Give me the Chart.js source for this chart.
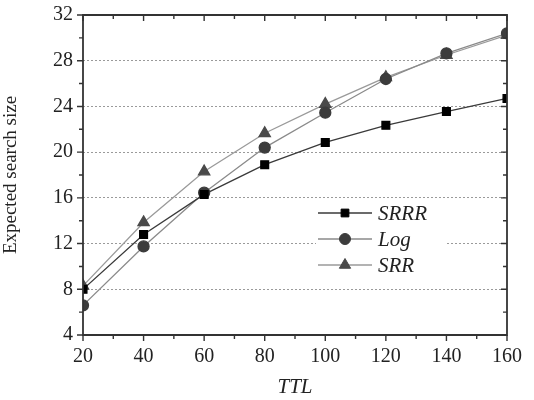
<!DOCTYPE html>
<html>
<head>
<meta charset="utf-8">
<script src="https://cdn.jsdelivr.net/npm/chart.js@4.4.1/dist/chart.umd.min.js"></script>
<style>
  html, body { margin: 0; padding: 0; background: #fff; }
  #wrap { width: 534px; height: 400px; }
</style>
</head>
<body>
<div id="wrap"><canvas id="chart" width="534" height="400"></canvas></div>
<script>
const ttl = [20, 40, 60, 80, 100, 120, 140, 160];
const srrr = [8.0, 12.8, 16.3, 18.9, 20.85, 22.35, 23.55, 24.7];
const logv = [6.6, 11.75, 16.45, 20.4, 23.45, 26.4, 28.65, 30.4];
const srr = [8.3, 13.85, 18.3, 21.65, 24.2, 26.55, 28.5, 30.25];
const yTicks = [4, 8, 12, 16, 20, 24, 28, 32];
const xTicks = [20, 40, 60, 80, 100, 120, 140, 160];

const serif = "'Liberation Serif', 'Times New Roman', serif";

function toPoints(ys) {
  return ttl.map((x, i) => ({ x: x, y: ys[i] }));
}

// box frame with Origin style ticks: bottom/left out, top/right in
function drawFrame(chart) {
  const ctx = chart.ctx, a = chart.chartArea;
  const xs = chart.scales.x, ys = chart.scales.y;
  ctx.save();
  ctx.setLineDash([]);
  ctx.strokeStyle = "#333";
  ctx.lineWidth = 1.8;
  ctx.beginPath();
  ctx.rect(a.left, a.top, a.right - a.left, a.bottom - a.top);
  ctx.stroke();
  ctx.lineWidth = 1.4;
  ctx.beginPath();
  for (let v = 20; v <= 160; v += 10) {
    const px = xs.getPixelForValue(v);
    const len = v % 20 === 0 ? 6 : 4;
    ctx.moveTo(px, a.bottom); ctx.lineTo(px, a.bottom + len);
    ctx.moveTo(px, a.top); ctx.lineTo(px, a.top + len);
  }
  for (let v = 4; v <= 32; v += 2) {
    const py = ys.getPixelForValue(v);
    const len = v % 4 === 0 ? 6 : 4;
    ctx.moveTo(a.left, py); ctx.lineTo(a.left - len, py);
    ctx.moveTo(a.right, py); ctx.lineTo(a.right - len, py);
  }
  ctx.stroke();
  ctx.restore();
}

// legend drawn inside plot, white box hides grid behind it
const legendPlugin = {
  id: "insideLegend",
  beforeDatasetsDraw(chart) {
    const ctx = chart.ctx;
    ctx.save();
    ctx.fillStyle = "#fff";
    ctx.fillRect(316, 200, 130, 76);
    ctx.restore();
  },
  afterDatasetsDraw(chart) {
    const ctx = chart.ctx;
    const x0 = 318, x1 = 372, tx = 378;
    const rows = [213, 239, 265];
    ctx.save();
    chart.data.datasets.forEach((ds, i) => {
      const y = rows[i];
      ctx.setLineDash([]);
      ctx.strokeStyle = ds.borderColor;
      ctx.lineWidth = ds.borderWidth;
      ctx.beginPath();
      ctx.moveTo(x0, y); ctx.lineTo(x1, y);
      ctx.stroke();
      ctx.fillStyle = ds.pointBackgroundColor;
      ctx.strokeStyle = ds.pointBorderColor;
      ctx.lineWidth = 1;
      Chart.helpers.drawPoint(ctx, {
        pointStyle: ds.pointStyle,
        radius: ds.pointRadius,
        borderWidth: 1,
      }, (x0 + x1) / 2, y);
      ctx.fillStyle = "#222";
      ctx.font = "italic 21px " + serif;
      ctx.textBaseline = "middle";
      ctx.textAlign = "left";
      ctx.fillText(ds.label, tx, y + 1);
    });
    ctx.restore();
  },
  afterDraw(chart) {
    drawFrame(chart);
  },
};

new Chart(document.getElementById("chart"), {
  type: "line",
  data: {
    datasets: [
      {
        label: "SRRR",
        data: toPoints(srrr),
        borderColor: "#3a3a3a",
        borderWidth: 1.3,
        pointStyle: "rect",
        pointRadius: 5.5,
        pointBackgroundColor: "#000",
        pointBorderColor: "#000",
      },
      {
        label: "Log",
        data: toPoints(logv),
        borderColor: "#8a8a8a",
        borderWidth: 1.3,
        pointStyle: "circle",
        pointRadius: 5.5,
        pointBackgroundColor: "#3c3c3c",
        pointBorderColor: "#3c3c3c",
      },
      {
        label: "SRR",
        data: toPoints(srr),
        borderColor: "#9a9a9a",
        borderWidth: 1.3,
        pointStyle: "triangle",
        pointRadius: 6.5,
        pointBackgroundColor: "#4a4a4a",
        pointBorderColor: "#4a4a4a",
      },
    ],
  },
  options: {
    responsive: false,
    animation: false,
    layout: { padding: { top: 15, right: 27, left: 0, bottom: 0 } },
    plugins: {
      legend: { display: false },
      tooltip: { enabled: false },
    },
    elements: { line: { tension: 0 } },
    scales: {
      x: {
        type: "linear",
        min: 20,
        max: 160,
        afterBuildTicks: (s) => { s.ticks = xTicks.map((v) => ({ value: v })); },
        afterFit: (s) => { s.height = 65; },
        grid: { display: false, drawTicks: false },
        border: { display: false },
        ticks: {
          padding: 10,
          color: "#222",
          font: { family: serif, size: 20 },
        },
        title: {
          display: true,
          text: "TTL",
          color: "#222",
          padding: { top: 2, bottom: 0 },
          font: { family: serif, size: 21, style: "italic" },
        },
      },
      y: {
        min: 4,
        max: 32,
        afterBuildTicks: (s) => { s.ticks = yTicks.map((v) => ({ value: v })); },
        afterFit: (s) => {
          s.width = 83;
          s.paddingTop = 0;
          s.paddingBottom = 0;
        },
        grid: {
          color: "#9a9a9a",
          lineWidth: 1,
          drawTicks: false,
        },
        border: { display: false, dash: [2, 2] },
        ticks: {
          padding: 10,
          color: "#222",
          font: { family: serif, size: 20 },
        },
        title: {
          display: true,
          text: "Expected search size",
          color: "#222",
          padding: { top: 0, bottom: 4 },
          font: { family: serif, size: 19 },
        },
      },
    },
  },
  plugins: [legendPlugin],
});
</script>
</body>
</html>
